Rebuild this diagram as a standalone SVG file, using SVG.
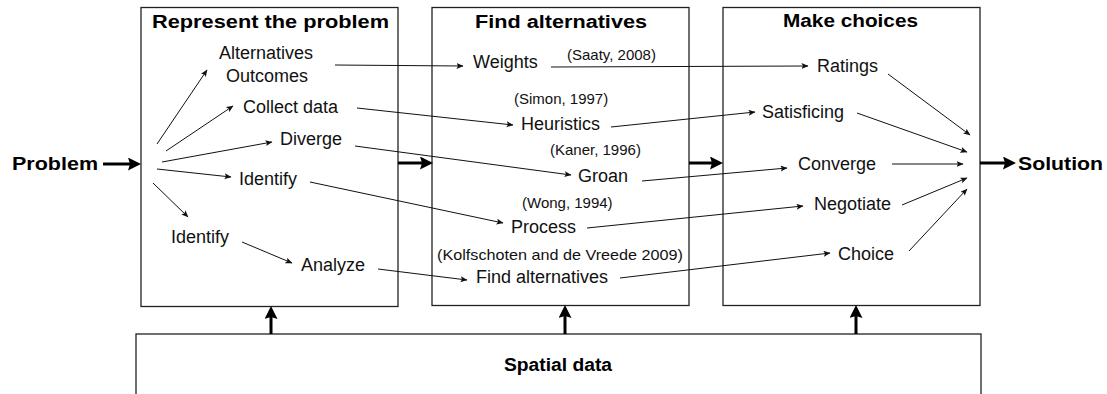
<svg xmlns="http://www.w3.org/2000/svg" width="1107" height="394" viewBox="0 0 1107 394">
<style>
.box{fill:#fff;stroke:#222;stroke-width:1.3}
.t{font-family:"Liberation Sans",Arial,sans-serif;font-size:18px;fill:#111}
.c{font-family:"Liberation Sans",Arial,sans-serif;font-size:15px;fill:#111}
.b{font-family:"Liberation Sans",Arial,sans-serif;font-size:18px;font-weight:bold;fill:#000}
.thin{stroke:#111;stroke-width:1;fill:none;marker-end:url(#ah)}
.thick{stroke:#000;stroke-width:3;fill:none;marker-end:url(#AH)}
</style>
<defs>
<marker id="ah" markerUnits="userSpaceOnUse" markerWidth="8" markerHeight="7" refX="6.5" refY="3" orient="auto">
<path d="M0,0 L7,3 L0,6 L1.5,3 z" fill="#111"/>
</marker>
<marker id="AH" markerUnits="userSpaceOnUse" markerWidth="14" markerHeight="14" refX="4" refY="6.5" orient="auto">
<path d="M0,0 L13,6.5 L0,13 L2,6.5 z" fill="#000"/>
</marker>
</defs>
<rect width="1107" height="394" fill="#fff"/>

<g id="spatial-data">
<rect class="box" x="136" y="334" width="845" height="80"/>
<text class="b" x="504" y="371" textLength="108" lengthAdjust="spacingAndGlyphs">Spatial data</text>
</g>

<g id="represent">
<rect class="box" x="141" y="7.5" width="257" height="299"/>
<text class="b" x="152" y="28" textLength="237" lengthAdjust="spacingAndGlyphs">Represent the problem</text>
</g>
<g id="find">
<rect class="box" x="432" y="7.5" width="257" height="298"/>
<text class="b" x="475" y="28" textLength="172" lengthAdjust="spacingAndGlyphs">Find alternatives</text>
</g>
<g id="choices">
<rect class="box" x="723" y="7.5" width="257" height="298"/>
<text class="b" x="783" y="27" textLength="135" lengthAdjust="spacingAndGlyphs">Make choices</text>
</g>

<g id="problem"><text class="b" x="12" y="170" textLength="86" lengthAdjust="spacingAndGlyphs">Problem</text></g>
<g id="solution"><text class="b" x="1018" y="170" textLength="85" lengthAdjust="spacingAndGlyphs">Solution</text></g>

<g id="alternatives-outcomes"><text class="t" x="219" y="59">Alternatives</text><text class="t" x="226" y="82">Outcomes</text></g>
<g id="collect-data"><text class="t" x="243" y="113">Collect data</text></g>
<g id="diverge"><text class="t" x="280" y="145">Diverge</text></g>
<g id="identify-1"><text class="t" x="239" y="185">Identify</text></g>
<g id="identify-2"><text class="t" x="171" y="243">Identify</text></g>
<g id="analyze"><text class="t" x="301" y="271">Analyze</text></g>

<g id="weights"><text class="t" x="473" y="68">Weights</text><text class="c" x="567" y="60">(Saaty, 2008)</text></g>
<g id="heuristics"><text class="t" x="521" y="130">Heuristics</text><text class="c" x="514" y="104">(Simon, 1997)</text></g>
<g id="groan"><text class="t" x="578" y="182">Groan</text><text class="c" x="550" y="155">(Kaner, 1996)</text></g>
<g id="process"><text class="t" x="511" y="233">Process</text><text class="c" x="522" y="208">(Wong, 1994)</text></g>
<g id="find-alternatives"><text class="t" x="476" y="283">Find alternatives</text><text class="c" x="437" y="260" textLength="246" lengthAdjust="spacingAndGlyphs">(Kolfschoten and de Vreede 2009)</text></g>

<g id="ratings"><text class="t" x="817" y="72">Ratings</text></g>
<g id="satisficing"><text class="t" x="762" y="118">Satisficing</text></g>
<g id="converge"><text class="t" x="798" y="170">Converge</text></g>
<g id="negotiate"><text class="t" x="814" y="210">Negotiate</text></g>
<g id="choice"><text class="t" x="838" y="260">Choice</text></g>

<g id="connectors">
<line class="thick" x1="103" y1="164" x2="132" y2="164"/>
<line class="thick" x1="398" y1="163" x2="424" y2="163"/>
<line class="thick" x1="689" y1="163" x2="714" y2="163"/>
<line class="thick" x1="980" y1="163" x2="1007" y2="163"/>
<line class="thick" x1="271" y1="334" x2="271" y2="315"/>
<line class="thick" x1="565" y1="334" x2="565" y2="314"/>
<line class="thick" x1="856" y1="334" x2="856" y2="314"/>

<line class="thin" x1="157" y1="144" x2="207" y2="70"/>
<line class="thin" x1="166" y1="151" x2="233" y2="106"/>
<line class="thin" x1="162" y1="162" x2="272" y2="142"/>
<line class="thin" x1="157" y1="169" x2="231" y2="177"/>
<line class="thin" x1="153" y1="183" x2="188" y2="217"/>
<line class="thin" x1="242" y1="242" x2="292" y2="263"/>

<line class="thin" x1="335" y1="65" x2="463" y2="66"/>
<line class="thin" x1="357" y1="108" x2="513" y2="125"/>
<line class="thin" x1="355" y1="146" x2="571" y2="175"/>
<line class="thin" x1="310" y1="182" x2="503" y2="223"/>
<line class="thin" x1="378" y1="269" x2="467" y2="280"/>

<line class="thin" x1="551" y1="67" x2="808" y2="66"/>
<line class="thin" x1="611" y1="127" x2="755" y2="112"/>
<line class="thin" x1="642" y1="181" x2="787" y2="168"/>
<line class="thin" x1="587" y1="228" x2="803" y2="206"/>
<line class="thin" x1="620" y1="278" x2="830" y2="253"/>

<line class="thin" x1="888" y1="74" x2="970" y2="135"/>
<line class="thin" x1="857" y1="113" x2="967" y2="152"/>
<line class="thin" x1="892" y1="164" x2="963" y2="164"/>
<line class="thin" x1="902" y1="205" x2="967" y2="178"/>
<line class="thin" x1="909" y1="251" x2="967" y2="189"/>
</g>
</svg>
